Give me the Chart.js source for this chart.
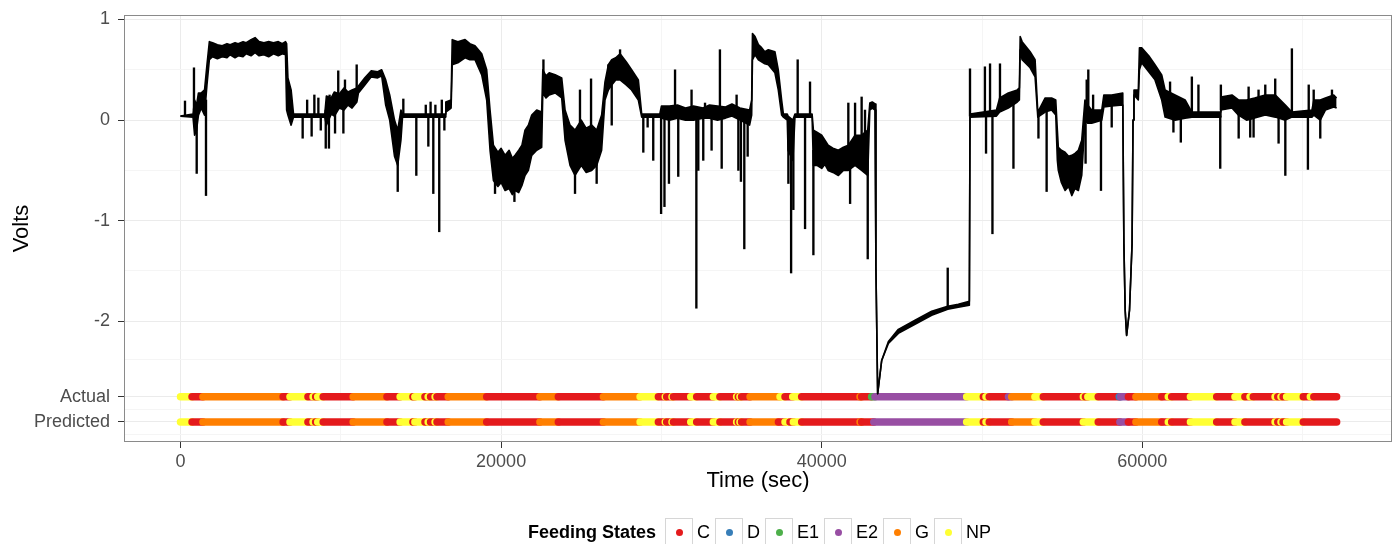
<!DOCTYPE html>
<html lang="en">
<head>
<meta charset="UTF-8">
<title>Feeding States - Volts vs Time</title>
<script src="https://cdn.jsdelivr.net/npm/chart.js"></script>
<style>
    body {
        margin: 0;
        background: #ffffff;
        font-family: "Liberation Sans", Arial, sans-serif;
    }
    .wrap {
        position: relative;
        width: 1398px;
        height: 544px;
    }
    #legend {
        position: absolute;
        left: 528px;
        top: 518px;
        height: 28px;
        display: flex;
        align-items: center;
        font-size: 18px;
        color: #000;
        white-space: nowrap;
    }
    #legend b { margin-right: 9px; }
    .key {
        width: 28px;
        height: 28px;
        box-sizing: border-box;
        border: 1px solid #d6d6d6;
        display: flex;
        align-items: center;
        justify-content: center;
        margin-right: 4px;
    }
    .key i {
        width: 7px;
        height: 7px;
        border-radius: 50%;
        display: block;
    }
    .lab { margin-right: 5px; }
</style>
</head>
<body>
<div class="wrap">
    <canvas id="chart" width="1398" height="544"></canvas>
    <div id="legend"></div>
</div>

<script>
    // feeding states (legend order) and colours
    const stateNames = ["C", "D", "E1", "E2", "G", "NP"];
    const stateColors = ["#E41A1C", "#377EB8", "#4DAF4A", "#984EA3", "#FF7F00", "#FFFF33"];

    const traceTime = [0, 780, 880, 1000, 1120, 1300, 1500, 1650, 1800, 2000,
        2300, 2600, 2900, 3100, 3400, 3600, 3900, 4100, 4400, 4650,
        4900, 5200, 5500, 5800, 6100, 6350, 6550, 6620, 6700, 6900,
        7050, 9000, 9100, 9400, 9600, 9900, 10200, 10450, 10700, 11000,
        11100, 11500, 11900, 12300, 12550, 12800, 13050, 13350, 13550, 13750,
        13850, 16500, 16550, 16880, 16950, 17300, 17750, 18050, 18370, 18790,
        19100, 19310, 19520, 19800, 20000, 20250, 20500, 20700, 20870, 21100,
        21300, 21490, 21700, 21910, 22220, 22530, 22600, 22800, 23000, 23370,
        23780, 23990, 24300, 24610, 25000, 25300, 25650, 25960, 26270, 26480,
        26690, 26900, 27150, 27420, 27800, 28140, 28560, 28770, 29900, 30000,
        30500, 31000, 31500, 32000, 32600, 33000, 33500, 34000, 34400, 34900,
        35500, 35630, 35680, 35840, 36050, 36250, 36450, 36670, 37080, 37290,
        37500, 37610, 37850, 37900, 38200, 38330, 39400, 39480, 39700, 40000,
        40200, 40400, 40700, 41040, 41350, 41660, 42080, 42490, 42870, 43000,
        43150, 43330, 43380, 43490, 43740, 44160, 44780, 45820, 46860, 47860,
        48520, 49210, 49250, 50900, 51100, 51640, 52200, 52330, 52380, 52500,
        53000, 53310, 53480, 53940, 54340, 54600, 54700, 54760, 54950, 55180,
        55400, 55600, 55800, 56010, 56220, 56420, 56590, 56840, 57470, 57600,
        58090, 58780, 58850, 58930, 59020, 59200, 59360, 59420, 59480, 59750,
        59820, 59960, 60400, 60790, 61210, 61420, 62040, 62670, 63090, 64860,
        64900, 65590, 66000, 66500, 67000, 67670, 68300, 68920, 69330, 70580,
        70700, 71100, 71420, 71940, 72120];
    const traceLow = [0.04, 0.03, -0.15, -0.1, 0.05, 0.12, 0.05, 0.35, 0.6, 0.63,
        0.61, 0.63, 0.62, 0.65, 0.62, 0.64, 0.63, 0.66, 0.64, 0.67,
        0.64, 0.65, 0.63, 0.66, 0.64, 0.66, 0.65, 0.1, 0.05, -0.05,
        0.03, 0.03, -0.05, 0.06, 0.04, 0.12, 0.1, 0.15, 0.12, 0.18,
        0.27, 0.35, 0.43, 0.42, 0.44, 0.15, 0.0, -0.36, -0.45, -0.2,
        0.03, 0.03, 0.08, 0.12, 0.55, 0.57, 0.62, 0.6, 0.6, 0.45,
        0.2, -0.3, -0.6, -0.66, -0.62, -0.7, -0.68, -0.74, -0.7, -0.72,
        -0.65, -0.55, -0.5, -0.35, -0.3, -0.27, 0.27, 0.22, 0.25, 0.27,
        0.22, -0.2, -0.45, -0.55, -0.45, -0.52, -0.5, -0.45, -0.3, 0.2,
        0.3, 0.35, 0.4, 0.4, 0.35, 0.3, 0.2, 0.03, 0.03, 0.02,
        0.0, 0.02, 0.0, 0.0, 0.02, 0.02, 0.0, 0.02, 0.04, 0.0,
        -0.05, 0.05, 0.6, 0.65, 0.6, 0.58, 0.56, 0.55, 0.47, 0.3,
        0.05, 0.03, 0.0, -0.3, -0.4, 0.03, 0.03, -0.45, -0.45, -0.48,
        -0.44, -0.5, -0.52, -0.55, -0.5, -0.5, -0.45, -0.5, -0.55, 0.1,
        0.12, 0.1, -1.45, -2.72, -2.39, -2.22, -2.12, -2.03, -1.94, -1.88,
        -1.86, -1.84, 0.03, 0.04, 0.08, 0.12, 0.18, 0.2, 0.7, 0.6,
        0.52, 0.43, 0.03, 0.08, 0.1, 0.05, -0.4, -0.5, -0.62, -0.7,
        -0.66, -0.75, -0.68, -0.7, -0.55, 0.0, -0.03, -0.03, 0.0, 0.13,
        0.14, 0.15, -1.23, -1.89, -2.14, -1.89, -1.23, 0.0, 0.25, 0.2,
        0.5, 0.57, 0.48, 0.4, 0.2, 0.03, 0.0, 0.02, 0.03, 0.03,
        0.1, 0.12, 0.05, 0.0, 0.02, 0.05, 0.03, 0.0, 0.03, 0.03,
        0.05, 0.0, 0.1, 0.13, 0.12];
    const traceHigh = [0.04, 0.06, 0.2, 0.15, 0.27, 0.27, 0.3, 0.55, 0.78, 0.77,
        0.75, 0.74, 0.76, 0.75, 0.77, 0.76, 0.78, 0.77, 0.8, 0.82,
        0.78, 0.77, 0.78, 0.77, 0.78, 0.76, 0.78, 0.76, 0.42, 0.3,
        0.06, 0.06, 0.24, 0.22, 0.28, 0.26, 0.32, 0.28, 0.3, 0.32,
        0.34, 0.42, 0.49, 0.48, 0.5, 0.4, 0.25, 0.0, -0.1, 0.1,
        0.06, 0.06, 0.18, 0.2, 0.8, 0.78, 0.8, 0.76, 0.74, 0.66,
        0.5, 0.1, -0.25, -0.32, -0.28, -0.35, -0.3, -0.38, -0.35, -0.3,
        -0.25, -0.1, -0.05, 0.05, 0.1, 0.08, 0.5, 0.44, 0.47, 0.45,
        0.42, 0.1, -0.05, -0.1, 0.0, -0.08, -0.05, -0.1, 0.05, 0.38,
        0.55, 0.6, 0.62, 0.66, 0.58, 0.5, 0.4, 0.06, 0.06, 0.14,
        0.14, 0.15, 0.12, 0.14, 0.12, 0.15, 0.14, 0.13, 0.16, 0.12,
        0.1, 0.2, 0.86, 0.83, 0.75, 0.72, 0.68, 0.7, 0.68, 0.5,
        0.2, 0.06, 0.06, 0.04, 0.0, 0.06, 0.06, -0.1, -0.12, -0.15,
        -0.2, -0.25, -0.28, -0.3, -0.27, -0.25, -0.15, -0.15, -0.1, 0.17,
        0.18, 0.16, -1.45, -2.72, -2.39, -2.2, -2.08, -1.99, -1.9, -1.85,
        -1.83, -1.8, 0.06, 0.1, 0.22, 0.27, 0.3, 0.32, 0.83, 0.78,
        0.68, 0.6, 0.08, 0.22, 0.22, 0.2, -0.1, -0.27, -0.3, -0.32,
        -0.36, -0.35, -0.33, -0.3, -0.2, 0.2, 0.15, 0.1, 0.1, 0.25,
        0.25, 0.27, -1.23, -1.89, -2.14, -1.89, -1.23, 0.0, 0.3, 0.3,
        0.72, 0.72, 0.64, 0.55, 0.45, 0.3, 0.25, 0.2, 0.08, 0.08,
        0.23, 0.25, 0.2, 0.2, 0.22, 0.25, 0.25, 0.15, 0.08, 0.1,
        0.2, 0.2, 0.22, 0.25, 0.22];

    // single spikes: time, where they leave the trace, tip value
    const spikeTime = [280, 840, 1010, 1590, 7620, 7900, 8180, 8350, 8600, 8750, 9060, 9260, 9300, 9640, 9840, 10160, 10260, 10990, 13550, 13900,
        14710, 15300, 15460, 15600, 15770, 15900, 16140, 16300, 16460, 19620, 20830, 22640, 24610, 24920, 25610, 25960, 26690, 26900, 27420, 28870,
        29140, 29490, 29980, 30190, 30470, 30850, 31050, 31880, 32180, 32300, 32610, 32720, 33130, 33650, 33760, 34690, 34800, 34960, 35170, 35380,
        37920, 38090, 38230, 38500, 38960, 39270, 39480, 41660, 41770, 42080, 42490, 42700, 42870, 47860, 49250, 50180, 50250, 50500, 50650, 51120,
        51960, 53520, 54030, 56460, 56530, 56630, 56930, 57420, 58090, 61730, 61940, 62400, 63090, 63500, 64860, 64900, 66010, 66630, 66730, 66940,
        67250, 67670, 68290, 68500, 68920, 69330, 70330, 70380, 70690, 71100, 71830];
    const spikeBase = [0.04, 0.1, 0.1, 0.2, 0.04, 0.04, 0.04, 0.04, 0.04, 0.04, 0.1, 0.1, 0.1, 0.15, 0.15, 0.2, 0.2, 0.2, -0.3, 0.04,
        0.04, 0.04, 0.04, 0.04, 0.04, 0.04, 0.04, 0.04, 0.04, -0.4, -0.5, 0.4, -0.3, -0.2, -0.2, -0.3, 0.4, 0.4, 0.5, 0.04,
        0.04, 0.04, 0.04, 0.04, 0.04, 0.04, 0.04, 0.04, 0.04, 0.04, 0.04, 0.04, 0.04, 0.04, 0.04, 0.04, 0.04, 0.04, 0.04, 0.04,
        0.0, 0.0, 0.0, 0.04, 0.04, 0.04, -0.3, -0.35, -0.35, -0.3, -0.3, -0.3, -0.3, -1.86, 0.04, 0.04, 0.04, 0.04, 0.04, 0.15,
        0.2, 0.04, 0.15, 0.1, 0.1, 0.05, 0.05, 0.05, 0.2, 0.1, 0.1, 0.1, 0.05, 0.04, 0.04, 0.1, 0.1, 0.1, 0.1, 0.1,
        0.1, 0.15, 0.15, 0.1, 0.1, 0.05, 0.05, 0.05, 0.1, 0.1, 0.15];
    const spikeTip = [0.19, 0.52, -0.53, -0.75, -0.18, 0.2, -0.16, 0.25, 0.22, -0.1, -0.28, -0.28, 0.25, -0.13, 0.49, -0.13, 0.4, 0.55, -0.71, 0.21,
        -0.55, 0.15, -0.26, 0.18, -0.73, 0.15, -1.11, 0.2, -0.1, -0.73, -0.81, 0.6, -0.73, 0.3, 0.41, -0.63, 0.55, -0.05, 0.7, -0.32,
        -0.07, -0.4, -0.93, -0.86, -0.63, 0.5, -0.56, 0.3, -1.87, -0.5, -0.4, 0.17, -0.3, 0.7, -0.48, 0.25, -0.5, -0.61, -1.28, -0.36,
        -0.63, -1.52, -0.89, 0.6, -1.08, 0.38, -1.34, 0.17, -0.83, 0.17, 0.23, 0.1, -1.38, -1.47, 0.51, 0.53, -0.33, 0.56, -1.13, 0.56,
        -0.48, -0.18, -0.71, -0.43, 0.4, 0.5, 0.25, -0.7, -0.07, 0.38, -0.12, -0.22, 0.43, 0.35, -0.48, 0.35, -0.18, 0.33, -0.17, -0.17,
        0.3, 0.35, 0.41, -0.23, -0.55, 0.71, -0.49, 0.35, 0.3, -0.18, 0.3];

    // state rows: start time of each run and its state, plus the common end time
    const endTime = 72120;
    const actualY = -2.75;
    const predictedY = -3;
    const actualStart = [0, 720, 1400, 6400, 6830, 7950, 8270, 8430, 8560, 8900, 10770, 12880, 13700, 14500, 14620, 15250, 15450, 15600, 15880, 16000,
        16700, 19100, 22420, 23570, 26380, 28670, 29810, 30240, 30330, 30660, 30750, 31830, 32200, 33240, 33650, 34690, 34800, 34900, 35000, 35530,
        37400, 37710, 38190, 38750, 42390, 42490, 43110, 43320, 49040, 50080, 50250, 50450, 51650, 51850, 53300, 53820, 56320, 56450, 56600, 57250,
        58560, 58650, 59130, 59600, 61210, 61620, 61830, 63000, 64640, 65780, 66400, 66720, 66920, 68280, 68450, 68650, 68780, 69000, 70040, 70480,
        70700];
    const actualState = ["NP", "C", "G", "C", "NP", "C", "NP", "C", "NP", "C", "G", "C", "NP", "C", "NP", "C", "NP", "C", "NP", "C",
        "G", "C", "G", "C", "G", "NP", "C", "NP", "C", "NP", "C", "NP", "C", "NP", "C", "NP", "C", "NP", "C", "G",
        "NP", "C", "NP", "C", "G", "C", "E1", "E2", "NP", "C", "NP", "C", "E2", "G", "NP", "C", "NP", "C", "NP", "C",
        "D", "E2", "C", "G", "C", "NP", "C", "NP", "C", "NP", "C", "NP", "C", "NP", "C", "NP", "C", "NP", "C", "NP",
        "C"];
    const predictedStart = [0, 720, 1400, 6400, 6830, 7950, 8270, 8430, 8560, 8900, 10770, 12880, 13700, 14500, 14620, 15250, 15450, 15600, 15880, 16000,
        16700, 19100, 22420, 23570, 26380, 28670, 29810, 30240, 30330, 30660, 30750, 31830, 32200, 33240, 33650, 34690, 34800, 34900, 35000, 35530,
        37300, 37710, 38020, 38230, 38750, 42390, 42490, 43250, 49040, 50080, 50250, 50450, 51850, 53300, 53820, 56320, 57250, 58600, 59130, 59600,
        61210, 61620, 61830, 63000, 64640, 65780, 66400, 68280, 68450, 68650, 68780, 69000, 70040];
    const predictedState = ["NP", "C", "G", "C", "NP", "C", "NP", "C", "NP", "C", "G", "C", "NP", "C", "NP", "C", "NP", "C", "NP", "C",
        "G", "C", "G", "C", "G", "NP", "C", "NP", "C", "NP", "C", "NP", "C", "NP", "C", "NP", "C", "NP", "C", "G",
        "C", "NP", "C", "NP", "C", "G", "C", "E2", "NP", "C", "NP", "C", "G", "NP", "C", "NP", "C", "E2", "C", "G",
        "C", "NP", "C", "NP", "C", "NP", "C", "NP", "C", "NP", "C", "NP", "C"];

    // axis ticks
    const xMajorTicks = [0, 20000, 40000, 60000];
    const xMinorTicks = [10000, 30000, 50000, 70000];
    const yMajorTicks = [1, 0, -1, -2, -2.75, -3];
    const yMajorLabels = ["1", "0", "-1", "-2", "Actual", "Predicted"];
    const yMinorTicks = [0.5, -0.5, -1.5, -2.375, -2.875, -3.125];

    const colorOf = s => stateColors[stateNames.indexOf(s)];
    const near = (list, v) => list.findIndex(m => Math.abs(m - v) < 1e-6);
    const isMajor = (list, c) => !!(c && c.tick) && near(list, c.tick.value) >= 0;

    function stateRow(starts, states, y, label) {
        const pts = starts.map(t => ({ x: t, y }));
        pts.push({ x: endTime, y });
        return {
            label,
            data: pts,
            borderWidth: 7.5,
            borderCapStyle: "round",
            pointRadius: 0,
            segment: { borderColor: c => colorOf(states[c.p0DataIndex]) }
        };
    }

    // painel do ggplot (borda cinza)
    const panelBorder = {
        id: "panelBorder",
        afterDatasetsDraw(chart) {
            const { ctx, chartArea: a } = chart;
            ctx.save();
            ctx.strokeStyle = "#8a8a8a";
            ctx.lineWidth = 1;
            ctx.strokeRect(a.left + 0.5, a.top + 0.5, a.right - a.left - 1, a.bottom - a.top - 1);
            ctx.restore();
        }
    };

    const tickFont = { family: "'Liberation Sans', Arial, sans-serif", size: 18 };
    const titleFont = { family: "'Liberation Sans', Arial, sans-serif", size: 22 };

    new Chart(document.getElementById("chart"), {
        type: "line",
        data: {
            datasets: [
                {
                    label: "high",
                    data: traceTime.map((t, i) => ({ x: t, y: traceHigh[i] })),
                    borderColor: "#000",
                    borderWidth: 1.6,
                    borderJoinStyle: "round",
                    pointRadius: 0,
                    fill: false,
                    order: 0
                },
                {
                    label: "low",
                    data: traceTime.map((t, i) => ({ x: t, y: traceLow[i] })),
                    borderColor: "#000",
                    backgroundColor: "#000",
                    borderWidth: 1.6,
                    borderJoinStyle: "round",
                    pointRadius: 0,
                    fill: "-1",
                    order: 1
                },
                {
                    type: "bar",
                    label: "spikes",
                    data: spikeTime.map((t, i) => ({ x: t, y: [spikeBase[i], spikeTip[i]] })),
                    backgroundColor: "#000",
                    borderWidth: 0,
                    barThickness: 1.7,
                    order: 2
                },
                Object.assign(stateRow(actualStart, actualState, actualY, "Actual"), { order: 3 }),
                Object.assign(stateRow(predictedStart, predictedState, predictedY, "Predicted"), { order: 4 })
            ]
        },
        options: {
            responsive: false,
            devicePixelRatio: 1,
            animation: false,
            layout: { padding: { top: 15, right: 6, bottom: 42, left: 0 } },
            elements: { line: { tension: 0 } },
            plugins: {
                legend: { display: false },
                tooltip: { enabled: false }
            },
            scales: {
                x: {
                    type: "linear",
                    position: "bottom",
                    min: -3525,
                    max: 75575,
                    offset: false,
                    afterBuildTicks: s => {
                        s.ticks = [...xMajorTicks, ...xMinorTicks].sort((a, b) => a - b).map(v => ({ value: v }));
                    },
                    afterFit: s => {
                        s.height = 60;
                        s.paddingLeft = 0;
                        s.paddingRight = 0;
                    },
                    ticks: {
                        autoSkip: false,
                        maxRotation: 0,
                        padding: 3,
                        color: "#4d4d4d",
                        font: tickFont,
                        callback: v => (near(xMajorTicks, v) >= 0 ? String(v) : "")
                    },
                    grid: {
                        offset: false,
                        color: c => (isMajor(xMajorTicks, c) ? "#ebebeb" : "#f5f5f5"),
                        tickColor: c => (isMajor(xMajorTicks, c) ? "#333" : "rgba(0,0,0,0)"),
                        tickLength: 6,
                        lineWidth: 1
                    },
                    border: { display: false },
                    title: {
                        display: true,
                        text: "Time (sec)",
                        color: "#000",
                        font: titleFont,
                        padding: { top: 0, bottom: 8 }
                    }
                },
                y: {
                    type: "linear",
                    min: -3.2,
                    max: 1.045,
                    afterBuildTicks: s => {
                        s.ticks = [...yMajorTicks, ...yMinorTicks].sort((a, b) => a - b).map(v => ({ value: v }));
                    },
                    afterFit: s => {
                        s.width = 124;
                        s.paddingTop = 0;
                        s.paddingBottom = 0;
                    },
                    ticks: {
                        autoSkip: false,
                        padding: 8,
                        color: "#4d4d4d",
                        font: tickFont,
                        callback: v => {
                            const i = near(yMajorTicks, v);
                            return i >= 0 ? yMajorLabels[i] : "";
                        }
                    },
                    grid: {
                        offset: false,
                        color: c => (isMajor(yMajorTicks, c) ? "#ebebeb" : "#f5f5f5"),
                        tickColor: c => (isMajor(yMajorTicks, c) ? "#333" : "rgba(0,0,0,0)"),
                        tickLength: 6,
                        lineWidth: 1
                    },
                    border: { display: false },
                    title: {
                        display: true,
                        text: "Volts",
                        color: "#000",
                        font: titleFont,
                        padding: { top: 9, bottom: 0 }
                    }
                }
            }
        },
        plugins: [panelBorder]
    });

    // legenda no estilo ggplot
    const legend = document.getElementById("legend");
    legend.innerHTML = "<b>Feeding States</b>" + stateNames.map((s, i) =>
        `<span class="key"><i style="background:${stateColors[i]}"></i></span><span class="lab">${s}</span>`
    ).join("");
</script>
</body>
</html>
